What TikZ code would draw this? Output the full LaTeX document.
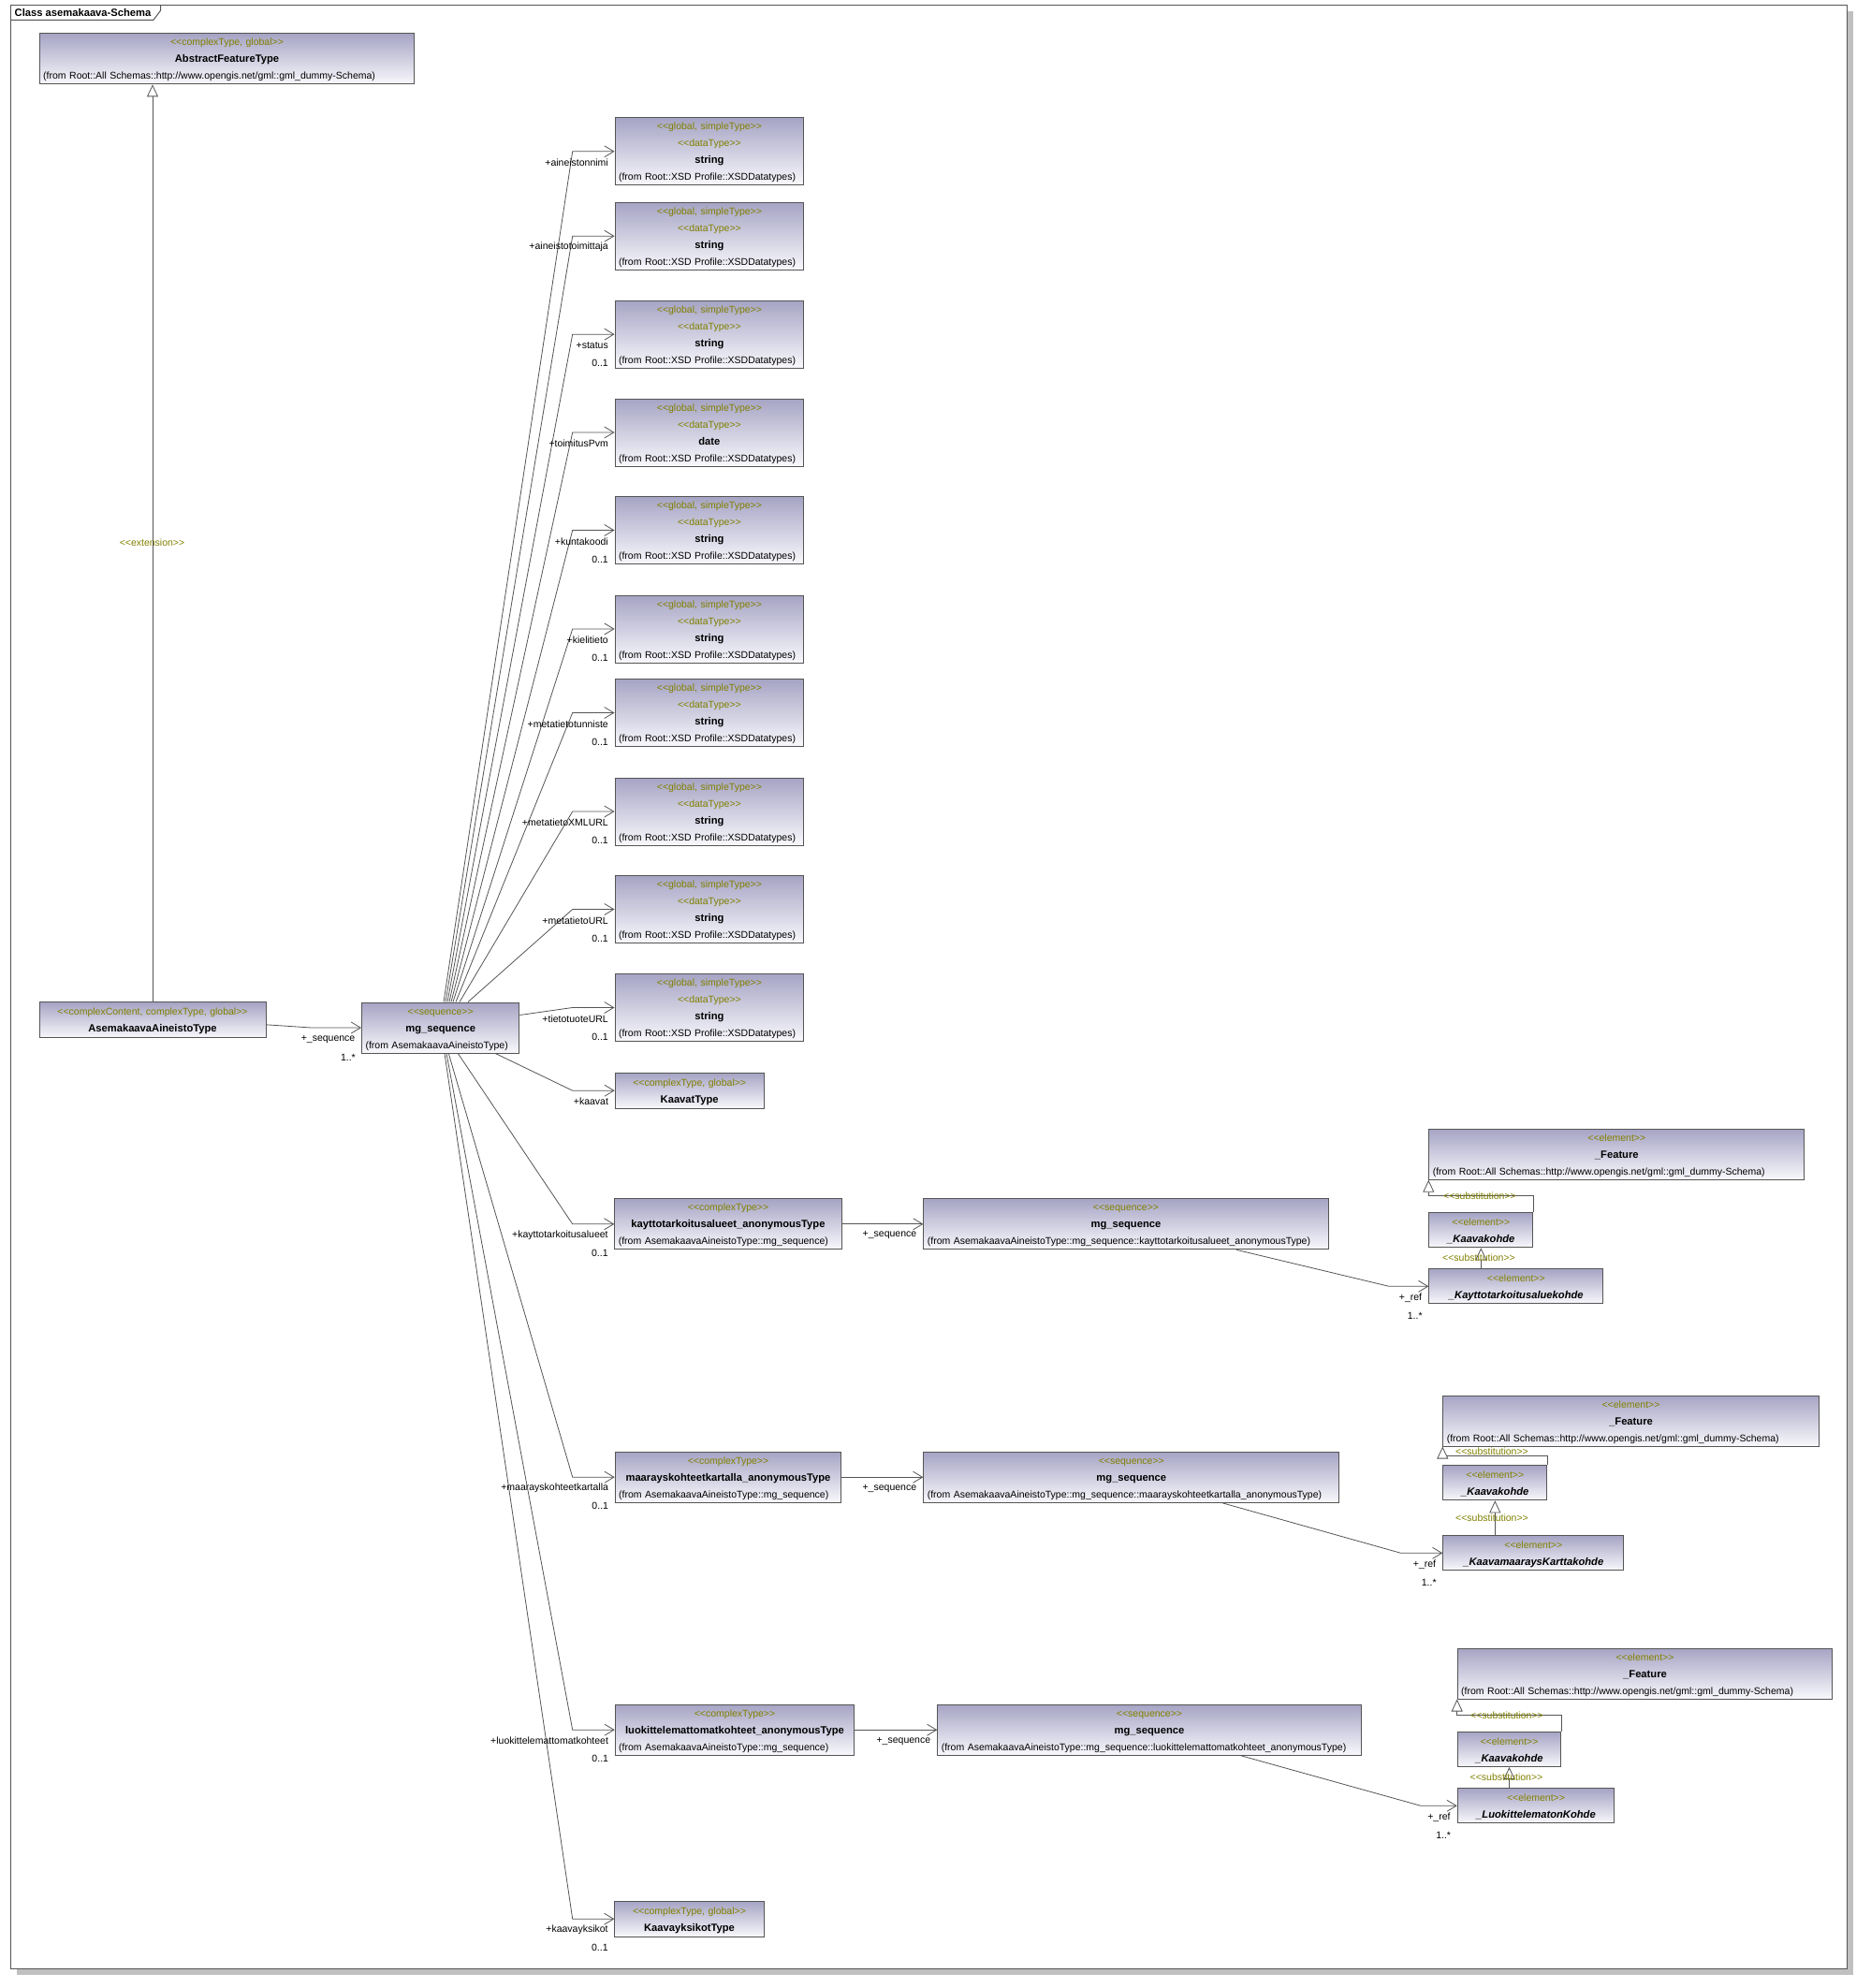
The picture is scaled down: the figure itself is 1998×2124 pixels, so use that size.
\documentclass[tikz,border=0pt]{standalone}
\usepackage{fontspec}
\setmainfont{Liberation Sans}
\usepackage{xcolor}
\usetikzlibrary{arrows.meta}

\definecolor{boxtop}{RGB}{166,164,196}
\definecolor{boxbot}{RGB}{248,248,252}
\definecolor{boxline}{RGB}{85,85,85}
\definecolor{stereo}{RGB}{128,128,0}
\definecolor{frameshadow}{RGB}{192,192,192}

\newcommand{\umlrow}{\rule[-5pt]{0pt}{18pt}}
\newcommand{\stereotype}[1]{\textcolor{stereo}{<{}<#1>{}>}}
\newcommand{\umlname}[1]{{\fontsize{11.2}{18}\selectfont\bfseries #1}}
\newcommand{\fromline}[1]{\makebox[\linewidth][l]{\hspace{4pt}#1}}

\tikzset{
  umlbox/.style={rectangle, draw=boxline, line width=1pt, top color=boxtop, bottom color=boxbot,
    anchor=north west, inner xsep=0pt, inner ysep=0pt, align=center, font=\fontsize{10.5}{18}\selectfont},
  assoc/.style={draw=boxline, line width=0.8pt, -{Straight Barb[length=10pt,width=12pt,line width=0.8pt]}},
  subst/.style={draw=boxline, line width=0.8pt, -{Triangle[open,length=13pt,width=12pt,fill=white,line width=0.8pt]}},
  role/.style={anchor=east, inner sep=0pt, font=\fontsize{10.5}{12}\selectfont},
  stlabel/.style={inner sep=0pt, font=\fontsize{10.5}{12}\selectfont},
  frame/.style={draw=boxline, line width=1pt}
}

\begin{document}
\begin{tikzpicture}[x=1pt,y=-1pt]
\useasboundingbox (0,0) rectangle (1998,2124);

%Frame with shadow and title tab
\fill[frameshadow] (18,12) rectangle (1980,2109.5);
\draw[frame,fill=white] (11.7,5.3) rectangle (1973,2103.3);
\draw[frame] (11.7,21.3) -- (164,21.3) -- (171.7,11) -- (171.7,5.3);
\node[anchor=west,inner sep=0pt,font=\fontsize{11.2}{12}\selectfont\bfseries] (title) at (15.5,13.6) {Class asemakaava-Schema};

%Bend columns
\coordinate (seqx) at (332.6,0);
\coordinate (fanx) at (611.7,0);
\coordinate (refxa) at (1484,0);
\coordinate (refxb) at (1496.7,0);
\coordinate (refxc) at (1518,0);

%Class: AbstractFeatureType
\node[umlbox, text width=400.6pt, minimum height=54pt] (abs) at (41.7,35.3)
  {\umlrow\stereotype{complexType, global}\\\umlrow\umlname{AbstractFeatureType}\\\umlrow\fromline{(from Root::All Schemas::http://www.opengis.net/gml::gml\_dummy-Schema)}};
%Class: AsemakaavaAineistoType
\node[umlbox, text width=242pt, minimum height=38pt] (aat) at (41.5,1070.3)
  {\umlrow\stereotype{complexContent, complexType, global}\\\umlrow\umlname{AsemakaavaAineistoType}};
%Class: mg_sequence
\node[umlbox, text width=168.3pt, minimum height=54pt] (mgs) at (386,1070.5)
  {\umlrow\stereotype{sequence}\\\umlrow\umlname{mg\_sequence}\\\umlrow\fromline{(from AsemakaavaAineistoType)}};

%Data types
\node[umlbox, text width=201.8pt, minimum height=72pt] (s1) at (656.5,125.3)
  {\umlrow\stereotype{global, simpleType}\\\umlrow\stereotype{dataType}\\\umlrow\umlname{string}\\\umlrow\fromline{(from Root::XSD Profile::XSDDatatypes)}};
\node[umlbox, text width=201.8pt, minimum height=72pt] (s2) at (656.5,215.7)
  {\umlrow\stereotype{global, simpleType}\\\umlrow\stereotype{dataType}\\\umlrow\umlname{string}\\\umlrow\fromline{(from Root::XSD Profile::XSDDatatypes)}};
\node[umlbox, text width=201.8pt, minimum height=72pt] (s3) at (656.5,320.7)
  {\umlrow\stereotype{global, simpleType}\\\umlrow\stereotype{dataType}\\\umlrow\umlname{string}\\\umlrow\fromline{(from Root::XSD Profile::XSDDatatypes)}};
\node[umlbox, text width=201.8pt, minimum height=72pt] (s4) at (656.5,425.5)
  {\umlrow\stereotype{global, simpleType}\\\umlrow\stereotype{dataType}\\\umlrow\umlname{date}\\\umlrow\fromline{(from Root::XSD Profile::XSDDatatypes)}};
\node[umlbox, text width=201.8pt, minimum height=72pt] (s5) at (656.5,530)
  {\umlrow\stereotype{global, simpleType}\\\umlrow\stereotype{dataType}\\\umlrow\umlname{string}\\\umlrow\fromline{(from Root::XSD Profile::XSDDatatypes)}};
\node[umlbox, text width=201.8pt, minimum height=72pt] (s6) at (656.5,635.5)
  {\umlrow\stereotype{global, simpleType}\\\umlrow\stereotype{dataType}\\\umlrow\umlname{string}\\\umlrow\fromline{(from Root::XSD Profile::XSDDatatypes)}};
\node[umlbox, text width=201.8pt, minimum height=72pt] (s7) at (656.5,725)
  {\umlrow\stereotype{global, simpleType}\\\umlrow\stereotype{dataType}\\\umlrow\umlname{string}\\\umlrow\fromline{(from Root::XSD Profile::XSDDatatypes)}};
\node[umlbox, text width=201.8pt, minimum height=72pt] (s8) at (656.5,830.5)
  {\umlrow\stereotype{global, simpleType}\\\umlrow\stereotype{dataType}\\\umlrow\umlname{string}\\\umlrow\fromline{(from Root::XSD Profile::XSDDatatypes)}};
\node[umlbox, text width=201.8pt, minimum height=72pt] (s9) at (656.5,935)
  {\umlrow\stereotype{global, simpleType}\\\umlrow\stereotype{dataType}\\\umlrow\umlname{string}\\\umlrow\fromline{(from Root::XSD Profile::XSDDatatypes)}};
\node[umlbox, text width=201.8pt, minimum height=72pt] (s10) at (656.5,1040)
  {\umlrow\stereotype{global, simpleType}\\\umlrow\stereotype{dataType}\\\umlrow\umlname{string}\\\umlrow\fromline{(from Root::XSD Profile::XSDDatatypes)}};

%Complex types
\node[umlbox, text width=159pt, minimum height=38pt] (kt) at (656.7,1145.7)
  {\umlrow\stereotype{complexType, global}\\\umlrow\umlname{KaavatType}};
\node[umlbox, text width=242.4pt, minimum height=54pt] (an1) at (656.3,1280.3)
  {\umlrow\stereotype{complexType}\\\umlrow\umlname{kayttotarkoitusalueet\_anonymousType}\\\umlrow\fromline{(from AsemakaavaAineistoType::mg\_sequence)}};
\node[umlbox, text width=241.6pt, minimum height=54pt] (an2) at (656.7,1550.7)
  {\umlrow\stereotype{complexType}\\\umlrow\umlname{maarayskohteetkartalla\_anonymousType}\\\umlrow\fromline{(from AsemakaavaAineistoType::mg\_sequence)}};
\node[umlbox, text width=255.6pt, minimum height=54pt] (an3) at (656.7,1820.7)
  {\umlrow\stereotype{complexType}\\\umlrow\umlname{luokittelemattomatkohteet\_anonymousType}\\\umlrow\fromline{(from AsemakaavaAineistoType::mg\_sequence)}};
\node[umlbox, text width=159.4pt, minimum height=38pt] (kyt) at (656.3,2030.7)
  {\umlrow\stereotype{complexType, global}\\\umlrow\umlname{KaavayksikotType}};

%Nested sequences
\node[umlbox, text width=432.2pt, minimum height=54pt] (sq1) at (986.4,1280.3)
  {\umlrow\stereotype{sequence}\\\umlrow\umlname{mg\_sequence}\\\umlrow\fromline{(from AsemakaavaAineistoType::mg\_sequence::kayttotarkoitusalueet\_anonymousType)}};
\node[umlbox, text width=444pt, minimum height=54pt] (sq2) at (986.3,1550.7)
  {\umlrow\stereotype{sequence}\\\umlrow\umlname{mg\_sequence}\\\umlrow\fromline{(from AsemakaavaAineistoType::mg\_sequence::maarayskohteetkartalla\_anonymousType)}};
\node[umlbox, text width=452.4pt, minimum height=54pt] (sq3) at (1001.3,1820.7)
  {\umlrow\stereotype{sequence}\\\umlrow\umlname{mg\_sequence}\\\umlrow\fromline{(from AsemakaavaAineistoType::mg\_sequence::luokittelemattomatkohteet\_anonymousType)}};

%Elements, group 1
\node[umlbox, text width=401pt, minimum height=54pt] (fe1) at (1526.3,1205.7)
  {\umlrow\stereotype{element}\\\umlrow\umlname{\_Feature}\\\umlrow\fromline{(from Root::All Schemas::http://www.opengis.net/gml::gml\_dummy-Schema)}};
\node[umlbox, text width=111pt, minimum height=37pt] (kk1) at (1526.3,1295.3)
  {\umlrow\stereotype{element}\\\umlrow\umlname{\itshape\_Kaavakohde}};
\node[umlbox, text width=186pt, minimum height=37pt] (el1) at (1526.3,1355.3)
  {\umlrow\stereotype{element}\\\umlrow\umlname{\itshape\_Kayttotarkoitusaluekohde}};
%Elements, group 2
\node[umlbox, text width=401.4pt, minimum height=54pt] (fe2) at (1541.3,1490.5)
  {\umlrow\stereotype{element}\\\umlrow\umlname{\_Feature}\\\umlrow\fromline{(from Root::All Schemas::http://www.opengis.net/gml::gml\_dummy-Schema)}};
\node[umlbox, text width=111pt, minimum height=37pt] (kk2) at (1541.3,1565.3)
  {\umlrow\stereotype{element}\\\umlrow\umlname{\itshape\_Kaavakohde}};
\node[umlbox, text width=193pt, minimum height=37pt] (el2) at (1541.3,1640.3)
  {\umlrow\stereotype{element}\\\umlrow\umlname{\itshape\_KaavamaaraysKarttakohde}};
%Elements, group 3
\node[umlbox, text width=400.6pt, minimum height=54pt] (fe3) at (1556.7,1760.5)
  {\umlrow\stereotype{element}\\\umlrow\umlname{\_Feature}\\\umlrow\fromline{(from Root::All Schemas::http://www.opengis.net/gml::gml\_dummy-Schema)}};
\node[umlbox, text width=110.6pt, minimum height=37pt] (kk3) at (1556.7,1850)
  {\umlrow\stereotype{element}\\\umlrow\umlname{\itshape\_Kaavakohde}};
\node[umlbox, text width=167.6pt, minimum height=37pt] (el3) at (1556.7,1910.3)
  {\umlrow\stereotype{element}\\\umlrow\umlname{\itshape\_LuokittelematonKohde}};

%Extension
\draw[subst] (aat.north) -- (aat.north |- abs.south);
\node[stlabel] (extlbl) at (162.5,580) {\stereotype{extension}};

%Association to mg_sequence
\draw[assoc] ([yshift=-5pt]aat.east) -- (seqx |- mgs.west) -- (mgs.west);
\node[role] (seqrole) at ([xshift=-6.5pt,yshift=-12.5pt]mgs.west) {+\_sequence};
\node[role] (seqmult) at ([xshift=-6pt,yshift=-31.5pt]mgs.west) {1..*};

%Associations from mg_sequence, upper fan
\draw[assoc] ([xshift=88pt]mgs.north west) -- (fanx |- s1.west) -- (s1.west);
\node[role] (r1) at ([xshift=-6.5pt,yshift=-12pt]s1.west) {+aineistonnimi};
\draw[assoc] ([xshift=90pt]mgs.north west) -- (fanx |- s2.west) -- (s2.west);
\node[role] (r2) at ([xshift=-6.5pt,yshift=-12pt]s2.west) {+aineistotoimittaja};
\draw[assoc] ([xshift=92pt]mgs.north west) -- (fanx |- s3.west) -- (s3.west);
\node[role] (r3) at ([xshift=-6.5pt,yshift=-12pt]s3.west) {+status};
\node[role] (m3) at ([xshift=-6.5pt,yshift=-31pt]s3.west) {0..1};
\draw[assoc] ([xshift=94pt]mgs.north west) -- (fanx |- s4.west) -- (s4.west);
\node[role] (r4) at ([xshift=-6.5pt,yshift=-12pt]s4.west) {+toimitusPvm};
\draw[assoc] ([xshift=96pt]mgs.north west) -- (fanx |- s5.west) -- (s5.west);
\node[role] (r5) at ([xshift=-6.5pt,yshift=-12pt]s5.west) {+kuntakoodi};
\node[role] (m5) at ([xshift=-6.5pt,yshift=-31pt]s5.west) {0..1};
\draw[assoc] ([xshift=98pt]mgs.north west) -- (fanx |- s6.west) -- (s6.west);
\node[role] (r6) at ([xshift=-6.5pt,yshift=-12pt]s6.west) {+kielitieto};
\node[role] (m6) at ([xshift=-6.5pt,yshift=-31pt]s6.west) {0..1};
\draw[assoc] ([xshift=101pt]mgs.north west) -- (fanx |- s7.west) -- (s7.west);
\node[role] (r7) at ([xshift=-6.5pt,yshift=-12pt]s7.west) {+metatietotunniste};
\node[role] (m7) at ([xshift=-6.5pt,yshift=-31pt]s7.west) {0..1};
\draw[assoc] ([xshift=105pt]mgs.north west) -- (fanx |- s8.west) -- (s8.west);
\node[role] (r8) at ([xshift=-6.5pt,yshift=-12pt]s8.west) {+metatietoXMLURL};
\node[role] (m8) at ([xshift=-6.5pt,yshift=-31pt]s8.west) {0..1};
\draw[assoc] ([xshift=114pt]mgs.north west) -- (fanx |- s9.west) -- (s9.west);
\node[role] (r9) at ([xshift=-6.5pt,yshift=-12pt]s9.west) {+metatietoURL};
\node[role] (m9) at ([xshift=-6.5pt,yshift=-31pt]s9.west) {0..1};
\draw[assoc] ([yshift=13.5pt]mgs.east) -- (fanx |- s10.west) -- (s10.west);
\node[role] (r10) at ([xshift=-6.5pt,yshift=-12pt]s10.west) {+tietotuoteURL};
\node[role] (m10) at ([xshift=-6.5pt,yshift=-31pt]s10.west) {0..1};

%Associations from mg_sequence, lower fan
\draw[assoc] ([xshift=143.3pt]mgs.south west) -- (fanx |- kt.west) -- (kt.west);
\node[role] (rkt) at ([xshift=-6.5pt,yshift=-12pt]kt.west) {+kaavat};
\draw[assoc] ([xshift=103.3pt]mgs.south west) -- (fanx |- an1.west) -- (an1.west);
\node[role] (ra1) at ([xshift=-6.5pt,yshift=-12pt]an1.west) {+kayttotarkoitusalueet};
\node[role] (ma1) at ([xshift=-6.5pt,yshift=-31pt]an1.west) {0..1};
\draw[assoc] ([xshift=93.3pt]mgs.south west) -- (fanx |- an2.west) -- (an2.west);
\node[role] (ra2) at ([xshift=-6.5pt,yshift=-12pt]an2.west) {+maarayskohteetkartalla};
\node[role] (ma2) at ([xshift=-6.5pt,yshift=-31pt]an2.west) {0..1};
\draw[assoc] ([xshift=91pt]mgs.south west) -- (fanx |- an3.west) -- (an3.west);
\node[role] (ra3) at ([xshift=-6.5pt,yshift=-12pt]an3.west) {+luokittelemattomatkohteet};
\node[role] (ma3) at ([xshift=-6.5pt,yshift=-31pt]an3.west) {0..1};
\draw[assoc] ([xshift=89pt]mgs.south west) -- (fanx |- kyt.west) -- (kyt.west);
\node[role] (rky) at ([xshift=-6.5pt,yshift=-12pt]kyt.west) {+kaavayksikot};
\node[role] (mky) at ([xshift=-6.5pt,yshift=-31pt]kyt.west) {0..1};

%Anonymous types to their sequences
\draw[assoc] (an1.east) -- (sq1.west);
\node[role] (qa1) at ([xshift=-7pt,yshift=-12pt]sq1.west) {+\_sequence};
\draw[assoc] (an2.east) -- (sq2.west);
\node[role] (qa2) at ([xshift=-7pt,yshift=-12pt]sq2.west) {+\_sequence};
\draw[assoc] (an3.east) -- (sq3.west);
\node[role] (qa3) at ([xshift=-7pt,yshift=-12pt]sq3.west) {+\_sequence};

%Sequences to elements
\draw[assoc] ([xshift=334.6pt]sq1.south west) -- (refxa |- el1.west) -- (el1.west);
\node[role] (rf1) at ([xshift=-7pt,yshift=-12pt]el1.west) {+\_ref};
\node[role] (mf1) at ([xshift=-6.5pt,yshift=-31.5pt]el1.west) {1..*};
\draw[assoc] ([xshift=319.4pt]sq2.south west) -- (refxb |- el2.west) -- (el2.west);
\node[role] (rf2) at ([xshift=-7pt,yshift=-12pt]el2.west) {+\_ref};
\node[role] (mf2) at ([xshift=-6.5pt,yshift=-31.5pt]el2.west) {1..*};
\draw[assoc] ([xshift=324.4pt]sq3.south west) -- (refxc |- el3.west) -- (el3.west);
\node[role] (rf3) at ([xshift=-7pt,yshift=-12pt]el3.west) {+\_ref};
\node[role] (mf3) at ([xshift=-6.5pt,yshift=-31.5pt]el3.west) {1..*};

%Substitutions
\draw[subst] (kk1.north east) -- ++(0,-18) -| (fe1.south west);
\node[stlabel] (sb1a) at (1581,1277.3) {\stereotype{substitution}};
\draw[subst] (el1.north -| kk1.south) -- (kk1.south);
\node[stlabel] (sb1b) at (1580,1344) {\stereotype{substitution}};
\draw[subst] (kk2.north east) -- ++(0,-9.6) -| (fe2.south west);
\node[stlabel] (sb2a) at (1594,1551) {\stereotype{substitution}};
\draw[subst] (el2.north -| kk2.south) -- (kk2.south);
\node[stlabel] (sb2b) at (1594,1621.3) {\stereotype{substitution}};
\draw[subst] (kk3.north east) -- ++(0,-17.7) -| (fe3.south west);
\node[stlabel] (sb3a) at (1610,1832.3) {\stereotype{substitution}};
\draw[subst] (el3.north -| kk3.south) -- (kk3.south);
\node[stlabel] (sb3b) at (1609.5,1899) {\stereotype{substitution}};
\end{tikzpicture}
\end{document}
